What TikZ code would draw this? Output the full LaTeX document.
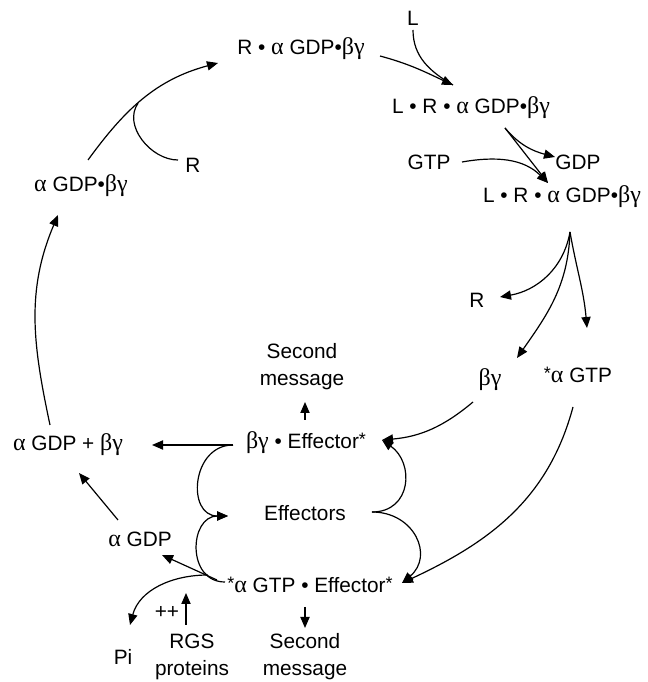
\documentclass[tikz,border=0pt]{standalone}
\usepackage{fontspec}
\setmainfont{Liberation Sans}
\newfontfamily\grk{Liberation Serif}
\usetikzlibrary{calc, arrows.meta}
\newcommand{\agr}{{\grk\large α}}
\newcommand{\bgr}{{\grk\large βγ}}
\newcommand{\act}{\raisebox{0.3ex}{\small *}}

\begin{document}
\begin{tikzpicture}[
    x=0.5pt, y=0.5pt,
    lbl/.style={inner sep=1pt, align=center, font=\fontsize{10.4}{13.5}\selectfont},
    directed/.style={-{Triangle[length=5.5pt, width=4.6pt]}, line width=0.6pt},
    plain/.style={line width=0.6pt}
]
\useasboundingbox (0,0) rectangle (648,682);

% species round the cycle
\node[lbl] (L) at (413,664) {L};
\node[lbl] (rab) at (301,633) {R • \agr\ GDP•\bgr};
\node[lbl] (lr1) at (471,574) {L • R • \agr\ GDP•\bgr};
\node[lbl] (gtp) at (429,520) {GTP};
\node[lbl] (gdp) at (578,520) {GDP};
\node[lbl] (lr2) at (562,485) {L • R • \agr\ GDP•\bgr};
\node[lbl] (r2) at (477,382) {R};
\node[lbl] (bg) at (490,302) {\bgr};
\node[lbl] (agtp) at (578,307) {\act\agr\ GTP};
\node[lbl] (sm1) at (302,315) {Second\\message};
\node[lbl] (bge) at (306,239) {\bgr\ • Effector\act};
\node[lbl] (agb) at (68,237) {\agr\ GDP + \bgr};
\node[lbl] (eff) at (305,169) {Effectors};
\node[lbl] (agdp) at (140,143) {\agr\ GDP};
\node[lbl] (age) at (310,97) {\act\agr\ GTP • Effector\act};
\node[lbl] (pi) at (123,25) {Pi};
\node[lbl] (pp) at (167,70) {++};
\node[lbl] (rgs) at (192,25) {RGS\\proteins};
\node[lbl] (sm2) at (305,25) {Second\\message};
\node[lbl] (adb) at (81,496) {\agr\ GDP•\bgr};
\node[lbl] (r1) at (193,517) {R};

% receptor binding
\draw[directed] ($(agb)+(-18,20)$) to[out=102, in=-113] ($(adb)+(-23,-29)$);
\draw[directed] ($(adb)+(7,26)$) to[out=54, in=195] coordinate[pos=0.45] (m) ($(rab)+(-83,-14)$);
\draw[plain] ($(r1)+(-15,5)$) to[out=180, in=235] (m);
\draw[directed] ($(rab)+(79,-7)$) to[out=-15, in=155] ($(lr1)+(-18,23)$);
\draw[plain] ($(L)+(0,-12)$) to[out=-90, in=150] ($(lr1)+(-18,23)$);

% nucleotide exchange
\draw[directed] ($(lr1)+(34,-20)$) to[out=-50, in=165] ($(gdp)+(-23,5)$);
\draw[directed] ($(lr1)+(34,-20)$) -- ($(lr2)+(-14,14)$);
\draw[directed] ($(gtp)+(33,0)$) to[out=10, in=135] ($(lr2)+(-14,14)$);

% dissociation
\draw[directed] ($(lr2)+(8,-35)$) to[out=-100, in=10] ($(r2)+(23,3)$);
\draw[directed] ($(lr2)+(8,-35)$) to[out=-92, in=55] ($(bg)+(27,22)$);
\draw[directed] ($(lr2)+(8,-35)$) to[out=-80, in=95] ($(agtp)+(9,47)$);
\draw[directed] ($(bg)+(-17,-22)$) to[out=220, in=5] ($(bge)+(76,3)$);
\draw[directed] ($(agtp)+(-5,-32)$) to[out=-105, in=25] ($(age)+(92,2)$);

% effectors
\draw[directed] ($(bge)+(-73,-2)$) -- ($(agb)+(84,0)$);
\draw[directed] ($(bge)+(-73,-2)$) to[out=180, in=180, looseness=1.5] ($(eff)+(-77,-3)$);
\draw[directed] ($(age)+(-85,3)$) to[out=180, in=180, looseness=1.5] ($(eff)+(-77,-3)$);
\draw[directed] ($(eff)+(67,1)$) to[out=0, in=-35, looseness=1.4] ($(bge)+(76,3)$);
\draw[directed] ($(eff)+(67,1)$) to[out=0, in=40, looseness=1.4] ($(age)+(92,2)$);
\draw[directed] ($(sm1)+(3,-53)$) -- ($(sm1)+(3,-35)$);
\draw[directed] ($(sm2)+(0,50)$) -- ($(sm2)+(0,29)$);

% hydrolysis
\draw[directed] ($(age)+(-93,5)$) -- ($(agdp)+(22,-16)$);
\draw[directed] ($(age)+(-102,10)$) to[out=180, in=75] ($(pi)+(7,32)$);
\draw[directed] ($(rgs)+(-6,32)$) -- ($(rgs)+(-6,64)$);
\draw[directed] ($(agdp)+(-22,19)$) -- ($(agb)+(11,-28)$);

\end{tikzpicture}
\end{document}
